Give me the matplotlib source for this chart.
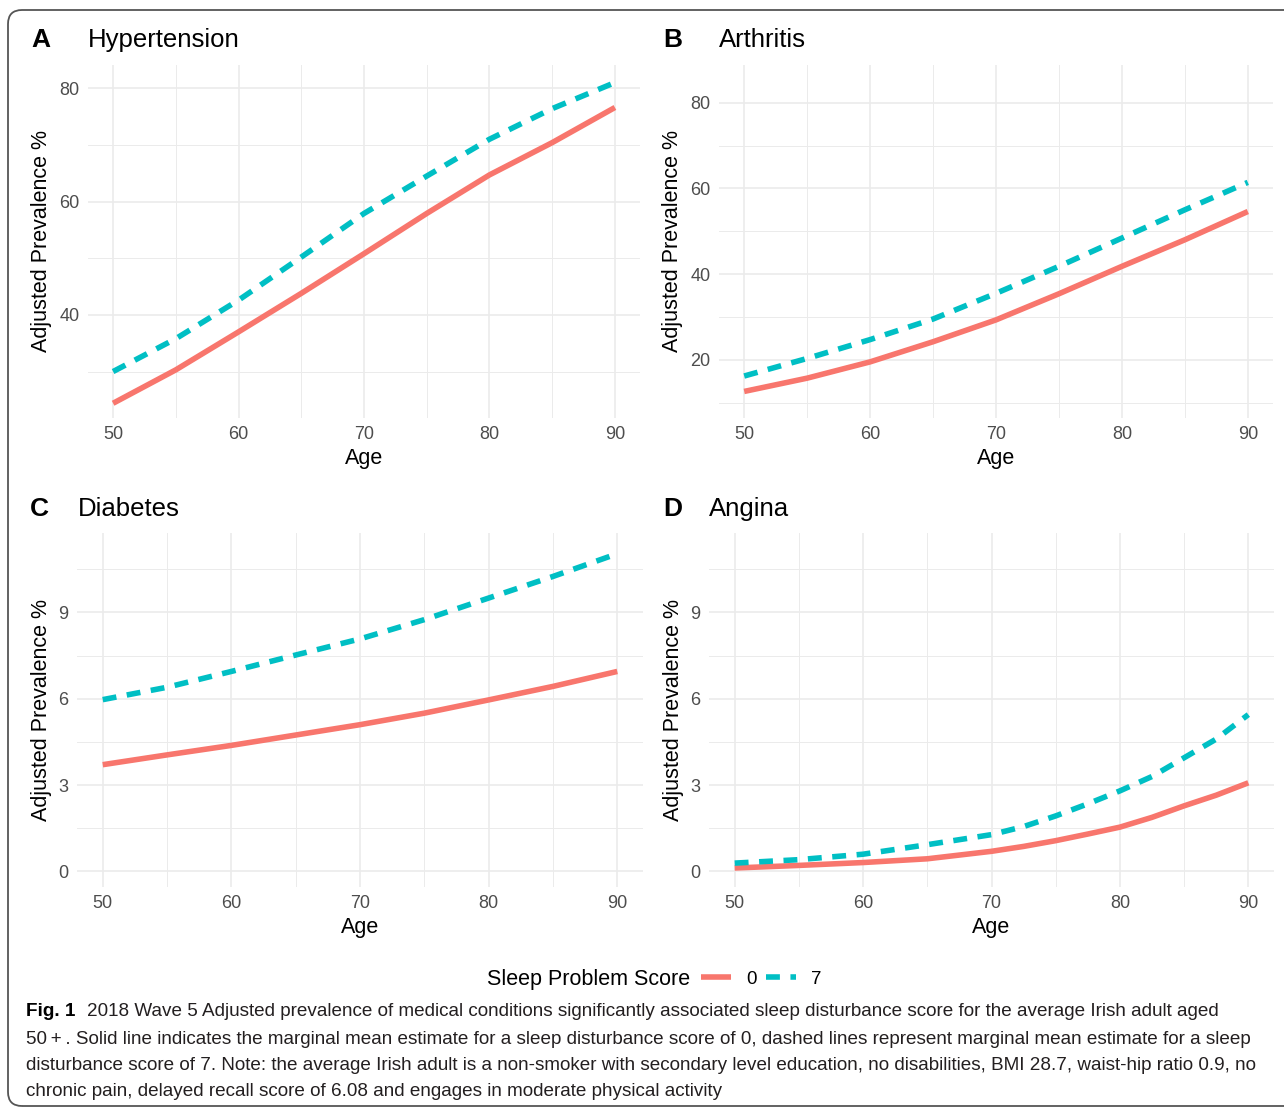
import matplotlib
matplotlib.use("Agg")
import matplotlib.pyplot as plt
from matplotlib.lines import Line2D
from matplotlib.patches import FancyBboxPatch
from matplotlib.transforms import IdentityTransform
from matplotlib.ticker import MultipleLocator

plt.rcParams['font.family'] = ['Liberation Sans', 'DejaVu Sans']

# Дані
ages = [50, 55, 60, 65, 70, 75, 80, 85, 90]
hyp_0 = [24.4, 30.3, 37.0, 43.8, 50.8, 57.9, 64.7, 70.4, 76.6]
hyp_7 = [30.0, 35.8, 42.6, 50.2, 57.9, 64.5, 71.0, 76.4, 81.0]
art_0 = [12.6, 15.7, 19.5, 24.2, 29.3, 35.4, 41.8, 48.0, 54.6]
art_7 = [16.2, 20.3, 24.7, 29.5, 35.5, 41.8, 48.4, 55.0, 61.4]
dia_0 = [3.71, 4.05, 4.38, 4.74, 5.10, 5.50, 5.96, 6.43, 6.95]
dia_7 = [5.97, 6.40, 6.95, 7.52, 8.08, 8.75, 9.50, 10.25, 11.04]
ang_ages = [50, 55, 60, 65, 70, 72.5, 75, 77.5, 80, 82.5, 85, 87.5, 90]
ang_0 = [0.12, 0.21, 0.31, 0.44, 0.70, 0.87, 1.07, 1.30, 1.54, 1.88, 2.28, 2.65, 3.08]
ang_7 = [0.29, 0.41, 0.60, 0.93, 1.28, 1.56, 1.93, 2.35, 2.80, 3.30, 3.95, 4.60, 5.45]

tags = ['A', 'B', 'C', 'D']
titles = ['Hypertension', 'Arthritis', 'Diabetes', 'Angina']
score_labels = ['0', '7']
legend_title = 'Sleep Problem Score'

caption_lines = [
    '2018 Wave 5 Adjusted prevalence of medical conditions significantly associated sleep disturbance score for the average Irish adult aged',
    '50\u2009+\u2009. Solid line indicates the marginal mean estimate for a sleep disturbance score of 0, dashed lines represent marginal mean estimate for a sleep',
    'disturbance score of 7. Note: the average Irish adult is a non-smoker with secondary level education, no disabilities, BMI 28.7, waist-hip ratio 0.9, no',
    'chronic pain, delayed recall score of 6.08 and engages in moderate physical activity',
]

W, H = 1284, 1109
RED = '#F8766D'
TEAL = '#00BFC4'
GRID = '#EBEBEB'
LW = 4.0
DASH = (2.5, 1.9)

fig = plt.figure(figsize=(W / 100, H / 100), dpi=100)


def px_axes(left, top, right, bottom):
    return fig.add_axes([left / W, 1 - bottom / H, (right - left) / W, (bottom - top) / H])


def panel(ax, x, y0, y7, ylim, major, minor):
    ax.plot(x, y0, color=RED, lw=LW, solid_capstyle='butt', solid_joinstyle='round', zorder=3)
    ax.plot(x, y7, color=TEAL, lw=LW, dashes=DASH, dash_capstyle='butt', zorder=3)
    ax.set_xlim(48, 92)
    ax.set_ylim(*ylim)
    ax.xaxis.set_major_locator(MultipleLocator(10))
    ax.xaxis.set_minor_locator(MultipleLocator(5))
    ax.yaxis.set_major_locator(MultipleLocator(major))
    ax.yaxis.set_minor_locator(MultipleLocator(minor))
    ax.grid(which='major', color=GRID, lw=1.2)
    ax.grid(which='minor', color=GRID, lw=0.7)
    ax.set_axisbelow(True)
    for s in ax.spines.values():
        s.set_visible(False)
    ax.tick_params(which='both', length=0, labelsize=13, labelcolor='#4D4D4D', pad=6)
    ax.set_xlabel('Age', fontsize=15.5, labelpad=3)
    ax.set_ylabel('Adjusted Prevalence %', fontsize=15.5, labelpad=5)


axA = px_axes(88, 65, 640, 418)
axB = px_axes(719, 65, 1273, 418)
axC = px_axes(77, 533, 643, 887)
axD = px_axes(709, 533, 1274, 887)

panel(axA, ages, hyp_0, hyp_7, (21.8, 84.1), 20, 10)
panel(axB, ages, art_0, art_7, (6.4, 88.8), 20, 10)
panel(axC, ages, dia_0, dia_7, (-0.54, 11.76), 3, 1.5)
panel(axD, ang_ages, ang_0, ang_7, (-0.54, 11.76), 3, 1.5)

# Підписи панелей
tag_pos = [(31, 40), (663, 40), (30, 509), (663, 509)]
title_x = [88, 719, 78, 709]
for tag, title, (tx, ty), hx in zip(tags, titles, tag_pos, title_x):
    fig.text(tx / W, 1 - ty / H, tag, fontsize=19, fontweight='bold', va='center', ha='left')
    fig.text(hx / W, 1 - ty / H, title, fontsize=18.5, va='center', ha='left')

# Легенда
fig.text(487 / W, 1 - 979 / H, legend_title, fontsize=15.5, va='center', ha='left')
handles = [Line2D([], [], color=RED, lw=LW, solid_capstyle='butt'),
           Line2D([], [], color=TEAL, lw=LW, dashes=DASH, dash_capstyle='butt')]
fig.legend(handles, score_labels, loc='center left', bbox_to_anchor=(701 / W, 1 - 979 / H),
           ncol=2, frameon=False, fontsize=13.5, handlelength=1.6, handletextpad=0.8,
           columnspacing=0.5, borderaxespad=0, borderpad=0)

# Підпис рисунка
cap_font = ['Liberation Sans', 'DejaVu Sans']
cap_y = [1012, 1039, 1065, 1091]
fig.text(26 / W, 1 - cap_y[0] / H, 'Fig. 1', fontsize=13.6, fontweight='bold',
         family=cap_font, va='center', ha='left')
for i, line in enumerate(caption_lines):
    x0 = 87 if i == 0 else 26
    fig.text(x0 / W, 1 - cap_y[i] / H, line, fontsize=13.6, family=cap_font,
             va='center', ha='left', color='#231F20')

# Рамка
frame = FancyBboxPatch((8, 3), 1330, 1096, boxstyle='round,pad=0,rounding_size=14',
                       transform=IdentityTransform(), fill=False, ec='#555555', lw=1.3)
fig.patches.append(frame)

fig.savefig('out.png', dpi=100)
